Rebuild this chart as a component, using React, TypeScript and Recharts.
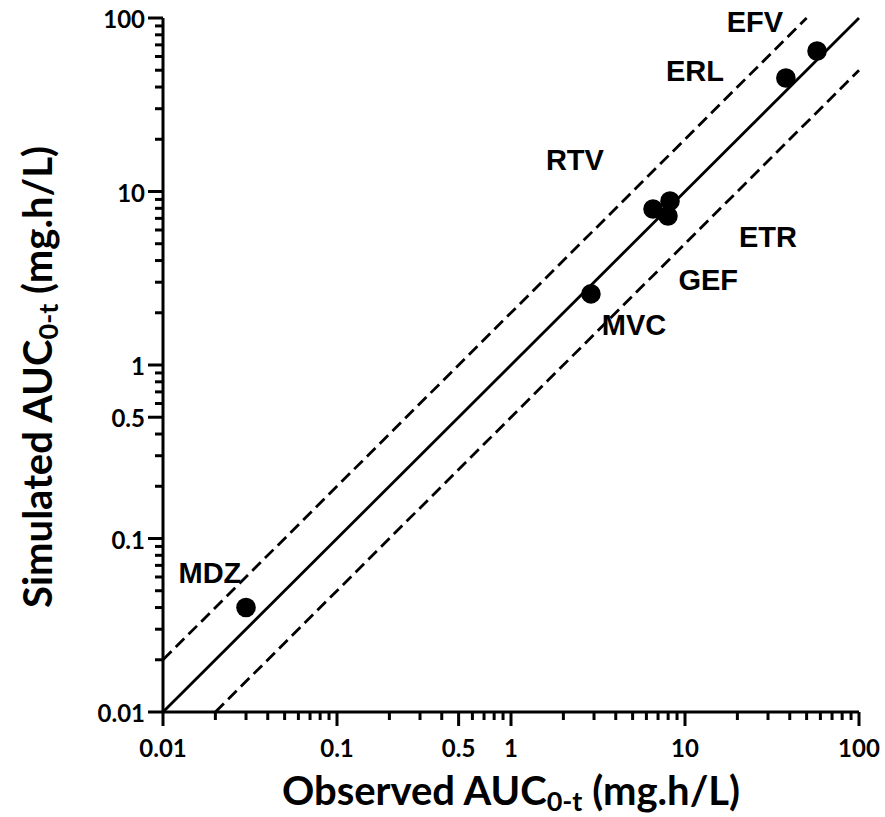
import React from 'react';
import { ScatterChart, Scatter, XAxis, YAxis, ReferenceLine } from 'recharts';

// drop the default body margin so the chart fills the window
if (typeof document !== 'undefined') document.body.style.margin = '0';

// observed vs simulated AUC (mg.h/L)
const OBSERVED = [0.03, 2.88, 6.55, 8.2, 7.98, 38, 57.4];
const SIMULATED = [0.04, 2.57, 7.93, 8.81, 7.22, 45.1, 64.5];

// drug name annotations, placed in data units
const DRUGS = ['EFV', 'ERL', 'RTV', 'ETR', 'GEF', 'MVC', 'MDZ'];
const DRUG_X = [25.2, 11.4, 2.33, 30.0, 13.6, 5.09, 0.0186];
const DRUG_Y = [94.8, 50.1, 15.2, 5.47, 3.09, 1.7, 0.064];

const TICK_LABELS = [0.01, 0.1, 0.5, 1, 10, 100];
const MINOR_TICKS = [
  0.02, 0.03, 0.04, 0.05, 0.06, 0.07, 0.08, 0.09,
  0.2, 0.3, 0.4, 0.6, 0.7, 0.8, 0.9,
  2, 3, 4, 5, 6, 7, 8, 9,
  20, 30, 40, 50, 60, 70, 80, 90,
];
const ALL_TICKS = [...TICK_LABELS, ...MINOR_TICKS].sort((a, b) => a - b);

const DOMAIN: [number, number] = [0.01, 100];

// unity line and 2-fold limits
const UNITY = [{ x: 0.01, y: 0.01 }, { x: 100, y: 100 }];
const UPPER_2FOLD = [{ x: 0.01, y: 0.02 }, { x: 50, y: 100 }];
const LOWER_2FOLD = [{ x: 0.02, y: 0.01 }, { x: 100, y: 50 }];

const points = OBSERVED.map((x, i) => ({ x, y: SIMULATED[i] }));
const labels = DRUGS.map((name, i) => ({ name, x: DRUG_X[i], y: DRUG_Y[i] }));

const TICK_FONT = 'Lato, "Open Sans", sans-serif';

const XTick = ({ x, y, payload }: any) => {
  const v = payload.value;
  const major = TICK_LABELS.includes(v);
  return (
    <g>
      <line x1={x} x2={x} y1={y} y2={y + (major ? 14 : 8)} stroke="#000" strokeWidth={3} />
      {major && (
        <text x={x} y={y + 45} textAnchor="middle" fontFamily={TICK_FONT} fontWeight="bold" fontSize={24} fill="#000">
          {String(v)}
        </text>
      )}
    </g>
  );
};

const YTick = ({ x, y, payload }: any) => {
  const v = payload.value;
  const major = TICK_LABELS.includes(v);
  return (
    <g>
      <line x1={x - (major ? 15 : 8)} x2={x} y1={y} y2={y} stroke="#000" strokeWidth={3} />
      {major && (
        <text x={x - 18} y={y + 10} textAnchor="end" fontFamily={TICK_FONT} fontWeight="bold" fontSize={24} fill="#000">
          {String(v)}
        </text>
      )}
    </g>
  );
};

const Dot = ({ cx, cy }: any) => <circle cx={cx} cy={cy} r={9.8} fill="#000" />;

const DrugLabel = ({ cx, cy, payload }: any) => (
  <text
    x={cx}
    y={cy}
    dy="0.36em"
    textAnchor="middle"
    fontFamily='"Liberation Sans", Arial, sans-serif'
    fontWeight="bold"
    fontSize={29}
    fill="#000"
  >
    {payload.name}
  </text>
);

export default function App() {
  const W = 885;
  const H = 817;
  return (
    <div style={{ position: 'relative', width: W, height: H, overflow: 'hidden' }}>
      <ScatterChart width={W} height={H} margin={{ top: 18, right: 26, bottom: 0, left: 0 }}>
        <XAxis
          type="number"
          dataKey="x"
          scale="log"
          domain={DOMAIN}
          ticks={ALL_TICKS}
          interval={0}
          height={105}
          tickSize={0}
          tickMargin={0}
          tickLine={false}
          axisLine={{ stroke: '#000', strokeWidth: 3 }}
          tick={<XTick />}
        />
        <YAxis
          type="number"
          dataKey="y"
          scale="log"
          domain={DOMAIN}
          ticks={ALL_TICKS}
          interval={0}
          width={163}
          tickSize={0}
          tickMargin={0}
          tickLine={false}
          axisLine={{ stroke: '#000', strokeWidth: 3 }}
          tick={<YTick />}
        />
        <ReferenceLine segment={UPPER_2FOLD} stroke="#000" strokeWidth={2.8} strokeDasharray="12 6" ifOverflow="visible" />
        <ReferenceLine segment={UNITY} stroke="#000" strokeWidth={2.8} ifOverflow="visible" />
        <ReferenceLine segment={LOWER_2FOLD} stroke="#000" strokeWidth={2.8} strokeDasharray="12 6" ifOverflow="visible" />
        <Scatter data={points} shape={<Dot />} isAnimationActive={false} />
        <Scatter data={labels} shape={<DrugLabel />} isAnimationActive={false} />
      </ScatterChart>
      <svg width={W} height={H} style={{ position: 'absolute', left: 0, top: 0, pointerEvents: 'none' }}>
        <text x={511} y={805} textAnchor="middle" fontFamily={TICK_FONT} fontWeight="bold" fontSize={40} fill="#000">
          Observed AUC
          <tspan fontSize={27} dy={6}>0-t</tspan>
          <tspan dy={-6}> (mg.h/L)</tspan>
        </text>
        <text
          transform="translate(52, 377) rotate(-90)"
          textAnchor="middle"
          fontFamily={TICK_FONT}
          fontWeight="bold"
          fontSize={40}
          fill="#000"
        >
          Simulated AUC
          <tspan fontSize={27} dy={6}>0-t</tspan>
          <tspan dy={-6}> (mg.h/L)</tspan>
        </text>
      </svg>
    </div>
  );
}
